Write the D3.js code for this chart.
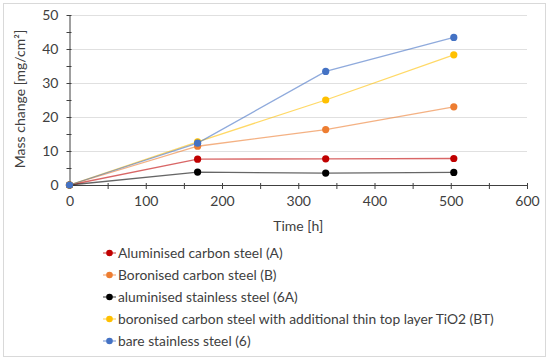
<!DOCTYPE html>
<html>

<head>
    <meta charset="utf-8">
    <title>Mass change</title>
    <script src="https://d3js.org/d3.v7.min.js"></script>
    <style>
        body {
            margin: 0;
            background: #fff;
        }

        text {
            font-family: Lato, "Open Sans", sans-serif;
            fill: #404040;
        }
    </style>
</head>

<body>
    <svg width="550" height="361"></svg>
    <script>
        // Data
        var hours = [0, 168, 336, 504];
        var seriesNames = [
            "Aluminised carbon steel (A)",
            "Boronised carbon steel (B)",
            "aluminised stainless steel (6A)",
            "boronised carbon steel with additional thin top layer TiO2 (BT)",
            "bare stainless steel (6)"
        ];
        var aluminisedCarbon = [0, 7.6, 7.7, 7.8];
        var boronisedCarbon = [0, 11.4, 16.3, 23.0];
        var aluminisedStainless = [0, 3.8, 3.5, 3.7];
        var boronisedTiO2 = [0, 12.7, 25.0, 38.3];
        var bareStainless = [0, 12.3, 33.4, 43.4];
        var seriesColors = ["#c00000", "#ed7d31", "#000000", "#ffc000", "#4472c4"];
        var xTicks = [0, 100, 200, 300, 400, 500, 600];
        var yTicks = [0, 10, 20, 30, 40, 50];

        var allSeries = [aluminisedCarbon, boronisedCarbon, aluminisedStainless, boronisedTiO2, bareStainless];

        var svg = d3.select("svg");

        // chart border
        svg.append("rect")
            .attr("x", 3.5).attr("y", 3.5)
            .attr("width", 542).attr("height", 353)
            .attr("fill", "#fff")
            .attr("stroke", "#d9d9d9");

        // plot area (note: "top" is reserved on window, so use other names)
        var plotLeft = 69.5, plotRight = 527, plotTop = 15, plotBottom = 185;

        var x = d3.scaleLinear().domain([0, 600]).range([plotLeft, plotRight]);
        var y = d3.scaleLinear().domain([0, 50]).range([plotBottom, plotTop]);

        // gridlines
        svg.selectAll(".grid")
            .data(yTicks.slice(1))
            .enter().append("line")
            .attr("class", "grid")
            .attr("x1", plotLeft).attr("x2", plotRight)
            .attr("y1", function (d) { return Math.round(y(d)) + 0.5; })
            .attr("y2", function (d) { return Math.round(y(d)) + 0.5; })
            .attr("stroke", "#e0e0e0")
            .attr("stroke-width", 1);

        // x axis
        var xAxis = d3.axisBottom(x)
            .tickValues(d3.range(0, 601, 50))
            .tickFormat(function (d) { return xTicks.indexOf(d) >= 0 ? d : ""; })
            .tickSizeInner(4).tickSizeOuter(0).tickPadding(7);
        var gx = svg.append("g")
            .attr("transform", "translate(0," + plotBottom + ")")
            .call(xAxis);

        // y axis
        var yAxis = d3.axisLeft(y)
            .tickValues(d3.range(0, 51, 5))
            .tickFormat(function (d) { return yTicks.indexOf(d) >= 0 ? d : ""; })
            .tickSizeInner(3).tickSizeOuter(0).tickPadding(8);
        var gy = svg.append("g")
            .attr("transform", "translate(" + plotLeft + ",0)")
            .call(yAxis);

        [gx, gy].forEach(function (g) {
            g.select(".domain").attr("stroke", "#404040");
            g.selectAll(".tick line").attr("stroke", "#404040");
            g.selectAll("text")
                .style("font-size", "14px")
                .attr("fill", "#404040");
        });
        gx.selectAll(".tick line").attr("y1", -2).attr("y2", 4);
        gy.selectAll(".tick line").attr("x1", 2).attr("x2", -3);

        // axis titles
        svg.append("text")
            .attr("x", (plotLeft + plotRight) / 2)
            .attr("y", 231)
            .attr("text-anchor", "middle")
            .style("font-size", "14px")
            .text("Time [h]");

        svg.append("text")
            .attr("transform", "rotate(-90)")
            .attr("x", -99)
            .attr("y", 25)
            .attr("text-anchor", "middle")
            .style("font-size", "14px")
            .text("Mass change [mg/cm²]");

        // lines and markers
        var line = d3.line()
            .x(function (d, i) { return x(hours[i]); })
            .y(function (d) { return y(d); });

        allSeries.forEach(function (values, k) {
            svg.append("path")
                .datum(values)
                .attr("d", line)
                .attr("fill", "none")
                .attr("stroke", seriesColors[k])
                .attr("stroke-opacity", 0.6)
                .attr("stroke-width", 1.3);

            svg.selectAll(".dot" + k)
                .data(values)
                .enter().append("circle")
                .attr("class", "dot" + k)
                .attr("cx", function (d, i) { return x(hours[i]); })
                .attr("cy", function (d) { return y(d); })
                .attr("r", 3.6)
                .attr("fill", seriesColors[k]);
        });

        // legend
        var legend = svg.append("g");
        seriesNames.forEach(function (name, k) {
            var ly = 253 + k * 22;
            legend.append("line")
                .attr("x1", 103).attr("x2", 116)
                .attr("y1", ly).attr("y2", ly)
                .attr("stroke", seriesColors[k])
                .attr("stroke-opacity", 0.6)
                .attr("stroke-width", 1.3);
            legend.append("circle")
                .attr("cx", 109.5).attr("cy", ly)
                .attr("r", 3.3)
                .attr("fill", seriesColors[k]);
            legend.append("text")
                .attr("x", 118)
                .attr("y", ly)
                .attr("dy", "0.35em")
                .style("font-size", "13.8px")
                .text(name);
        });
    </script>
</body>

</html>
